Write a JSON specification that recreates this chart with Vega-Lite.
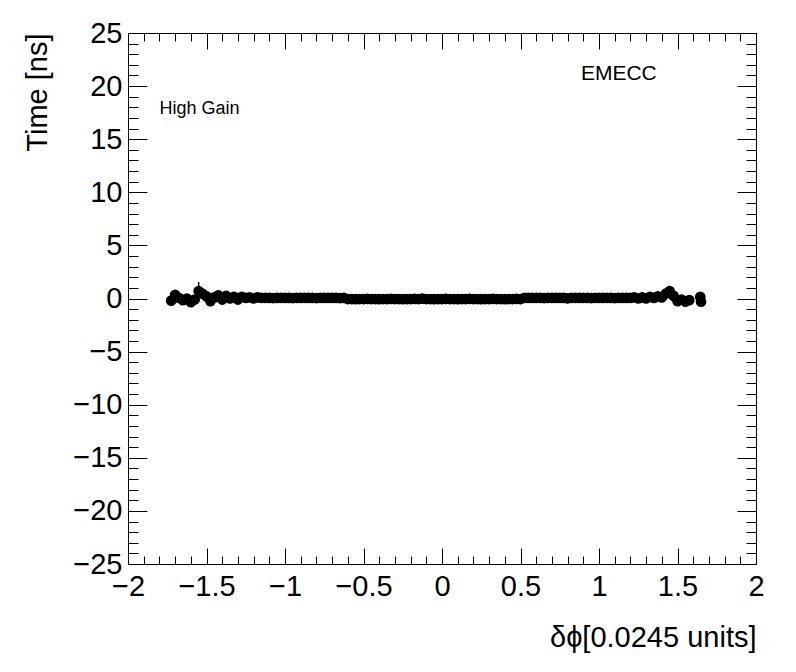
{
  "$schema": "https://vega.github.io/schema/vega-lite/v6.json",
  "width": 628,
  "height": 531,
  "autosize": {"type": "none"},
  "padding": {"left": 128, "top": 33, "right": 40, "bottom": 108},
  "background": "white",
  "config": {
    "view": {"stroke": "black", "strokeWidth": 1},
    "font": "Liberation Sans",
    "axis": {
      "domain": false, "grid": false, "tickColor": "black", "tickWidth": 1,
      "labelColor": "black", "titleColor": "black",
      "labelFont": "Liberation Sans", "titleFont": "Liberation Sans",
      "labelFontSize": 29, "titleFontSize": 29, "titleFontWeight": "normal",
      "labelFlush": false, "labelOverlap": false, "format": "~g"
    }
  },
  "datasets": {
    "pts": [
      {"x": -1.725, "y": -0.2, "e": 0.15},
      {"x": -1.7, "y": 0.35, "e": 0.2},
      {"x": -1.675, "y": 0.05, "e": 0.1},
      {"x": -1.65, "y": -0.15, "e": 0.1},
      {"x": -1.625, "y": 0.0, "e": 0.1},
      {"x": -1.6, "y": -0.35, "e": 0.1},
      {"x": -1.575, "y": -0.1, "e": 0.1},
      {"x": -1.55, "y": 0.7, "e": 0.85},
      {"x": -1.525, "y": 0.45, "e": 0.2},
      {"x": -1.5, "y": 0.2, "e": 0.1},
      {"x": -1.475, "y": -0.25, "e": 0.1},
      {"x": -1.45, "y": 0.1, "e": 0.1},
      {"x": -1.425, "y": 0.3, "e": 0.1},
      {"x": -1.4, "y": -0.1, "e": 0.1},
      {"x": -1.375, "y": 0.25, "e": 0.1},
      {"x": -1.35, "y": 0.0, "e": 0.05},
      {"x": -1.325, "y": 0.15, "e": 0.05},
      {"x": -1.3, "y": -0.1, "e": 0.05},
      {"x": -1.275, "y": 0.15, "e": 0.05},
      {"x": -1.25, "y": 0.05, "e": 0.05},
      {"x": -1.225, "y": 0.1, "e": 0.05},
      {"x": -1.2, "y": 0.0, "e": 0.05},
      {"x": -1.175, "y": 0.1, "e": 0.05},
      {"x": -1.15, "y": 0.05, "e": 0.03},
      {"x": -1.125, "y": 0.06, "e": 0.03},
      {"x": -1.1, "y": 0.05, "e": 0.03},
      {"x": -1.075, "y": 0.04, "e": 0.03},
      {"x": -1.05, "y": 0.05, "e": 0.03},
      {"x": -1.025, "y": 0.06, "e": 0.03},
      {"x": -1.0, "y": 0.05, "e": 0.03},
      {"x": -0.975, "y": 0.05, "e": 0.03},
      {"x": -0.95, "y": 0.04, "e": 0.03},
      {"x": -0.925, "y": 0.05, "e": 0.03},
      {"x": -0.9, "y": 0.05, "e": 0.03},
      {"x": -0.875, "y": 0.06, "e": 0.03},
      {"x": -0.85, "y": 0.05, "e": 0.03},
      {"x": -0.825, "y": 0.05, "e": 0.03},
      {"x": -0.8, "y": 0.04, "e": 0.03},
      {"x": -0.775, "y": 0.05, "e": 0.03},
      {"x": -0.75, "y": 0.05, "e": 0.03},
      {"x": -0.725, "y": 0.06, "e": 0.03},
      {"x": -0.7, "y": 0.05, "e": 0.03},
      {"x": -0.675, "y": 0.05, "e": 0.03},
      {"x": -0.65, "y": 0.04, "e": 0.03},
      {"x": -0.625, "y": 0.05, "e": 0.03},
      {"x": -0.6, "y": -0.05, "e": 0.03},
      {"x": -0.575, "y": -0.05, "e": 0.03},
      {"x": -0.55, "y": -0.06, "e": 0.03},
      {"x": -0.525, "y": -0.05, "e": 0.03},
      {"x": -0.5, "y": -0.05, "e": 0.03},
      {"x": -0.475, "y": -0.04, "e": 0.03},
      {"x": -0.45, "y": -0.05, "e": 0.03},
      {"x": -0.425, "y": -0.05, "e": 0.03},
      {"x": -0.4, "y": -0.06, "e": 0.03},
      {"x": -0.375, "y": -0.05, "e": 0.03},
      {"x": -0.35, "y": -0.05, "e": 0.03},
      {"x": -0.325, "y": -0.04, "e": 0.03},
      {"x": -0.3, "y": -0.05, "e": 0.03},
      {"x": -0.275, "y": -0.05, "e": 0.03},
      {"x": -0.25, "y": -0.06, "e": 0.03},
      {"x": -0.225, "y": -0.05, "e": 0.03},
      {"x": -0.2, "y": -0.05, "e": 0.03},
      {"x": -0.175, "y": -0.04, "e": 0.03},
      {"x": -0.15, "y": -0.05, "e": 0.03},
      {"x": -0.125, "y": -0.02, "e": 0.45},
      {"x": -0.1, "y": -0.05, "e": 0.03},
      {"x": -0.075, "y": -0.05, "e": 0.03},
      {"x": -0.05, "y": -0.06, "e": 0.03},
      {"x": -0.025, "y": -0.05, "e": 0.03},
      {"x": 0.0, "y": -0.05, "e": 0.03},
      {"x": 0.025, "y": -0.04, "e": 0.03},
      {"x": 0.05, "y": -0.05, "e": 0.03},
      {"x": 0.075, "y": -0.05, "e": 0.03},
      {"x": 0.1, "y": -0.06, "e": 0.03},
      {"x": 0.125, "y": -0.05, "e": 0.03},
      {"x": 0.15, "y": -0.05, "e": 0.03},
      {"x": 0.175, "y": -0.04, "e": 0.03},
      {"x": 0.2, "y": -0.05, "e": 0.03},
      {"x": 0.225, "y": -0.05, "e": 0.03},
      {"x": 0.25, "y": -0.06, "e": 0.03},
      {"x": 0.275, "y": -0.05, "e": 0.03},
      {"x": 0.3, "y": -0.05, "e": 0.03},
      {"x": 0.325, "y": -0.04, "e": 0.03},
      {"x": 0.35, "y": -0.05, "e": 0.03},
      {"x": 0.375, "y": -0.05, "e": 0.03},
      {"x": 0.4, "y": -0.06, "e": 0.03},
      {"x": 0.425, "y": -0.05, "e": 0.03},
      {"x": 0.45, "y": -0.05, "e": 0.03},
      {"x": 0.475, "y": -0.04, "e": 0.03},
      {"x": 0.5, "y": -0.05, "e": 0.03},
      {"x": 0.525, "y": 0.05, "e": 0.03},
      {"x": 0.55, "y": 0.05, "e": 0.03},
      {"x": 0.575, "y": 0.06, "e": 0.03},
      {"x": 0.6, "y": 0.05, "e": 0.03},
      {"x": 0.625, "y": 0.05, "e": 0.03},
      {"x": 0.65, "y": 0.04, "e": 0.03},
      {"x": 0.675, "y": 0.05, "e": 0.03},
      {"x": 0.7, "y": 0.05, "e": 0.03},
      {"x": 0.725, "y": 0.06, "e": 0.03},
      {"x": 0.75, "y": 0.05, "e": 0.03},
      {"x": 0.775, "y": 0.05, "e": 0.03},
      {"x": 0.8, "y": 0.02, "e": 0.5},
      {"x": 0.825, "y": 0.05, "e": 0.03},
      {"x": 0.85, "y": 0.05, "e": 0.03},
      {"x": 0.875, "y": 0.06, "e": 0.03},
      {"x": 0.9, "y": 0.05, "e": 0.03},
      {"x": 0.925, "y": 0.05, "e": 0.03},
      {"x": 0.95, "y": 0.04, "e": 0.03},
      {"x": 0.975, "y": 0.05, "e": 0.03},
      {"x": 1.0, "y": 0.05, "e": 0.03},
      {"x": 1.025, "y": 0.06, "e": 0.03},
      {"x": 1.05, "y": 0.05, "e": 0.03},
      {"x": 1.075, "y": 0.05, "e": 0.03},
      {"x": 1.1, "y": 0.04, "e": 0.03},
      {"x": 1.125, "y": 0.05, "e": 0.03},
      {"x": 1.15, "y": 0.05, "e": 0.03},
      {"x": 1.175, "y": 0.06, "e": 0.03},
      {"x": 1.2, "y": 0.05, "e": 0.03},
      {"x": 1.225, "y": 0.1, "e": 0.05},
      {"x": 1.25, "y": 0.0, "e": 0.05},
      {"x": 1.275, "y": 0.1, "e": 0.05},
      {"x": 1.3, "y": 0.0, "e": 0.05},
      {"x": 1.325, "y": 0.15, "e": 0.05},
      {"x": 1.35, "y": 0.05, "e": 0.05},
      {"x": 1.375, "y": 0.2, "e": 0.1},
      {"x": 1.4, "y": 0.1, "e": 0.1},
      {"x": 1.425, "y": 0.45, "e": 0.1},
      {"x": 1.45, "y": 0.7, "e": 0.15},
      {"x": 1.475, "y": 0.25, "e": 0.1},
      {"x": 1.5, "y": -0.25, "e": 0.1},
      {"x": 1.525, "y": -0.1, "e": 0.1},
      {"x": 1.55, "y": -0.3, "e": 0.1},
      {"x": 1.575, "y": -0.15, "e": 0.1},
      {"x": 1.645, "y": 0.15, "e": 0.3},
      {"x": 1.65, "y": -0.3, "e": 0.2}
    ],
    "ann1": [{"x": -1.8, "y": 17.8, "label": "High Gain"}],
    "ann2": [{"x": 0.885, "y": 21.1, "label": "EMECC"}]
  },
  "layer": [
    {
      "data": {"name": "pts"},
      "mark": {"type": "errorbar", "color": "black", "thickness": 1.5},
      "encoding": {
        "x": {"field": "x", "type": "quantitative", "scale": {"domain": [-2, 2], "nice": false, "zero": false}, "axis": null},
        "y": {"field": "y", "type": "quantitative", "scale": {"domain": [-25, 25], "nice": false, "zero": false}, "axis": null},
        "yError": {"field": "e"}
      }
    },
    {
      "data": {"name": "pts"},
      "mark": {"type": "circle", "size": 115, "color": "black", "opacity": 1},
      "encoding": {
        "x": {"field": "x", "type": "quantitative", "scale": {"domain": [-2, 2], "nice": false, "zero": false},
          "axis": {"orient": "bottom", "values": [-2, -1.5, -1, -0.5, 0, 0.5, 1, 1.5, 2], "tickSize": -16, "labelPadding": 24,
            "title": "δϕ[0.0245 units]", "titleAnchor": "end", "titlePadding": 22}},
        "y": {"field": "y", "type": "quantitative", "scale": {"domain": [-25, 25], "nice": false, "zero": false},
          "axis": {"orient": "left", "values": [-25, -20, -15, -10, -5, 0, 5, 10, 15, 20, 25], "tickSize": -19, "labelPadding": 25,
            "title": "Time [ns]", "titleAnchor": "end", "titlePadding": 20}}
      }
    },
    {
      "data": {"name": "ann1"},
      "mark": {"type": "point", "opacity": 0},
      "encoding": {
        "x": {"field": "x", "type": "quantitative", "scale": {"domain": [-2, 2], "nice": false, "zero": false},
          "axis": {"orient": "bottom", "values": [-2, -1.9, -1.8, -1.7, -1.6, -1.5, -1.4, -1.3, -1.2, -1.1, -1, -0.9, -0.8, -0.7, -0.6, -0.5, -0.4, -0.3, -0.2, -0.1, 0, 0.1, 0.2, 0.3, 0.4, 0.5, 0.6, 0.7, 0.8, 0.9, 1, 1.1, 1.2, 1.3, 1.4, 1.5, 1.6, 1.7, 1.8, 1.9, 2], "tickSize": -8, "labels": false, "title": null}},
        "y": {"field": "y", "type": "quantitative", "scale": {"domain": [-25, 25], "nice": false, "zero": false},
          "axis": {"orient": "left", "values": [-25, -24, -23, -22, -21, -20, -19, -18, -17, -16, -15, -14, -13, -12, -11, -10, -9, -8, -7, -6, -5, -4, -3, -2, -1, 0, 1, 2, 3, 4, 5, 6, 7, 8, 9, 10, 11, 12, 13, 14, 15, 16, 17, 18, 19, 20, 21, 22, 23, 24, 25], "tickSize": -10, "labels": false, "title": null}}
      }
    },
    {
      "data": {"name": "ann1"},
      "mark": {"type": "point", "opacity": 0},
      "encoding": {
        "x": {"field": "x", "type": "quantitative", "scale": {"domain": [-2, 2], "nice": false, "zero": false},
          "axis": {"orient": "top", "values": [-2, -1.5, -1, -0.5, 0, 0.5, 1, 1.5, 2], "tickSize": -16, "labels": false, "title": null}},
        "y": {"field": "y", "type": "quantitative", "scale": {"domain": [-25, 25], "nice": false, "zero": false},
          "axis": {"orient": "right", "values": [-25, -20, -15, -10, -5, 0, 5, 10, 15, 20, 25], "tickSize": -19, "labels": false, "title": null}}
      }
    },
    {
      "data": {"name": "ann1"},
      "mark": {"type": "point", "opacity": 0},
      "encoding": {
        "x": {"field": "x", "type": "quantitative", "scale": {"domain": [-2, 2], "nice": false, "zero": false},
          "axis": {"orient": "top", "values": [-2, -1.9, -1.8, -1.7, -1.6, -1.5, -1.4, -1.3, -1.2, -1.1, -1, -0.9, -0.8, -0.7, -0.6, -0.5, -0.4, -0.3, -0.2, -0.1, 0, 0.1, 0.2, 0.3, 0.4, 0.5, 0.6, 0.7, 0.8, 0.9, 1, 1.1, 1.2, 1.3, 1.4, 1.5, 1.6, 1.7, 1.8, 1.9, 2], "tickSize": -8, "labels": false, "title": null}},
        "y": {"field": "y", "type": "quantitative", "scale": {"domain": [-25, 25], "nice": false, "zero": false},
          "axis": {"orient": "right", "values": [-25, -24, -23, -22, -21, -20, -19, -18, -17, -16, -15, -14, -13, -12, -11, -10, -9, -8, -7, -6, -5, -4, -3, -2, -1, 0, 1, 2, 3, 4, 5, 6, 7, 8, 9, 10, 11, 12, 13, 14, 15, 16, 17, 18, 19, 20, 21, 22, 23, 24, 25], "tickSize": -10, "labels": false, "title": null}}
      }
    },
    {
      "data": {"name": "ann1"},
      "mark": {"type": "text", "align": "left", "baseline": "middle", "fontSize": 18, "font": "Liberation Sans", "color": "black"},
      "encoding": {
        "x": {"field": "x", "type": "quantitative", "scale": {"domain": [-2, 2], "nice": false, "zero": false}, "axis": null},
        "y": {"field": "y", "type": "quantitative", "scale": {"domain": [-25, 25], "nice": false, "zero": false}, "axis": null},
        "text": {"field": "label"}
      }
    },
    {
      "data": {"name": "ann2"},
      "mark": {"type": "text", "align": "left", "baseline": "middle", "fontSize": 21, "font": "Liberation Sans", "color": "black"},
      "encoding": {
        "x": {"field": "x", "type": "quantitative", "scale": {"domain": [-2, 2], "nice": false, "zero": false}, "axis": null},
        "y": {"field": "y", "type": "quantitative", "scale": {"domain": [-25, 25], "nice": false, "zero": false}, "axis": null},
        "text": {"field": "label"}
      }
    }
  ],
  "resolve": {"axis": {"x": "independent", "y": "independent"}}
}
